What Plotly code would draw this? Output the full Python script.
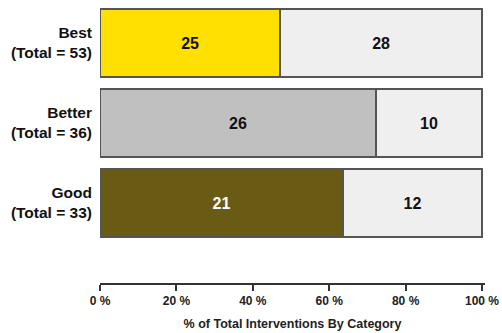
import plotly.graph_objects as go

# Intervention counts per category
categories = ["Good", "Better", "Best"]
totals = [33, 36, 53]
primary_counts = [21, 26, 25]
other_counts = [12, 10, 28]

primary_colors = ["#695A14", "#C0C0C0", "#FFE000"]
primary_text_colors = ["#FFFFFF", "#111111", "#111111"]
other_color = "#EFEFEF"

tick_vals = [0, 20, 40, 60, 80, 100]
tick_text = [f"{v} %" for v in tick_vals]

primary_pct = [c / t * 100 for c, t in zip(primary_counts, totals)]
other_pct = [c / t * 100 for c, t in zip(other_counts, totals)]
y_pos = list(range(len(categories)))
y_labels = [f"<b>{c}<br>(Total = {t})</b>" for c, t in zip(categories, totals)]

font_family = "Liberation Sans, Arial, sans-serif"
outline = dict(color="#555555", width=1.5)

fig = go.Figure()
fig.add_trace(go.Bar(
    y=y_pos, x=primary_pct, orientation="h",
    marker=dict(color=primary_colors, line=outline),
    text=[f"<b>{c}</b>" for c in primary_counts],
    textposition="inside", insidetextanchor="middle", textangle=0,
    textfont=dict(family=font_family, size=16, color=primary_text_colors),
    width=0.85, hoverinfo="skip",
))
fig.add_trace(go.Bar(
    y=y_pos, x=other_pct, orientation="h",
    marker=dict(color=other_color, line=outline),
    text=[f"<b>{c}</b>" for c in other_counts],
    textposition="inside", insidetextanchor="middle", textangle=0,
    textfont=dict(family=font_family, size=16, color="#111111"),
    width=0.85, hoverinfo="skip",
))

fig.update_layout(
    width=502, height=333,
    barmode="stack",
    showlegend=False,
    plot_bgcolor="white", paper_bgcolor="white",
    margin=dict(l=100, r=14, t=3, b=50),
    font=dict(family=font_family, color="#111111"),
    uniformtext=dict(minsize=16, mode="show"),
)
fig.update_xaxes(
    range=[0, 100.78],
    tickvals=tick_vals, ticktext=[f"<b>{t}</b>" for t in tick_text],
    tickfont=dict(size=12, color="#222222"),
    ticklabeloverflow="allow",
    ticks="outside", ticklen=6, tickwidth=1.5, tickcolor="#333333",
    showline=True, linecolor="#333333", linewidth=1.5,
    showgrid=False, zeroline=False,
    title=dict(text="<b>% of Total Interventions By Category</b>",
               font=dict(size=12.5, color="#222222"), standoff=12),
)
fig.update_yaxes(
    range=[-1, 2.5],
    tickvals=y_pos, ticktext=y_labels,
    tickfont=dict(size=15.5, color="#111111"),
    ticks="", showline=False, showgrid=False, zeroline=False,
    ticklabelstandoff=7,
)

fig.write_html("out.html")
